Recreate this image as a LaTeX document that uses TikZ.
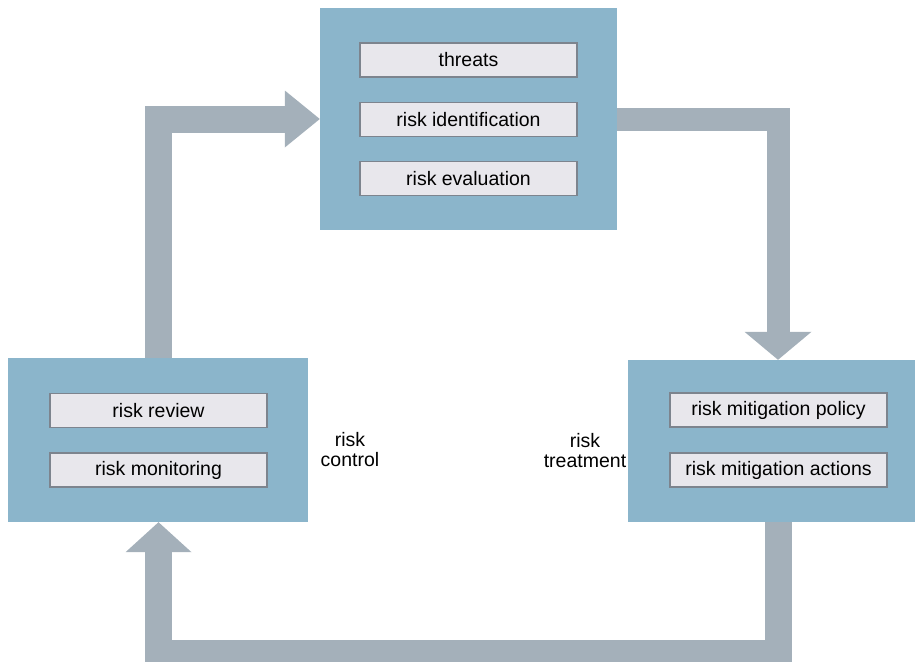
\documentclass[tikz,border=0pt]{standalone}
\usepackage{fontspec}
\setmainfont{Liberation Sans}
\usetikzlibrary{arrows.meta,calc}
\definecolor{boxblue}{RGB}{139,181,203}
\definecolor{arrowgrey}{RGB}{164,176,186}
\definecolor{itemfill}{RGB}{232,231,236}
\definecolor{itemline}{RGB}{125,132,142}
\begin{document}
\begin{tikzpicture}[x=1pt,y=-1pt,
  stage/.style={fill=boxblue, draw=none, inner sep=0pt},
  item/.style={fill=itemfill, draw=itemline, line width=1.3pt, minimum width=217pt, minimum height=34pt, inner sep=0pt, font=\fontsize{19.5}{22}\selectfont},
  fatarrow/.style={draw=arrowgrey, line width=27pt, line join=miter},
  lbl/.style={align=center, font=\fontsize{19.5}{20}\selectfont, inner sep=0pt}
]
\useasboundingbox (0,0) rectangle (915,661);
% stage boxes
\node[stage, minimum width=297pt, minimum height=222pt] (top) at (468.5,119) {};
\node[stage, minimum width=300pt, minimum height=164pt] (left) at (158,440) {};
\node[stage, minimum width=301pt, minimum height=162pt] (right) at (778.5,441) {};
% items
\node[item] (threats) at (468.5,60) {threats};
\node[item] (ident) at (468.5,119.5) {risk identification};
\node[item] (eval) at (468.5,178.5) {risk evaluation};
\node[item] (review) at (158.5,410.5) {risk review};
\node[item] (monit) at (158.5,470) {risk monitoring};
\node[item] (policy) at (778.5,410) {risk mitigation policy};
\node[item] (actions) at (778.5,470) {risk mitigation actions};
% labels
\node[lbl] (control) at (350,450) {risk\\control};
\node[lbl] (treat) at (585,451) {risk\\treatment};
% connectors
\coordinate (br) at (778.5,653.5);
\draw[fatarrow, -{Triangle[length=35pt,width=57pt,line width=0pt]}] (left.north) |- (top.west);
\draw[fatarrow, line width=23pt, -{Triangle[length=28pt,width=67pt,line width=0pt]}] (top.east) -| ([xshift=-0.5pt]right.north);
\draw[fatarrow, -{Triangle[length=30pt,width=66pt,line width=0pt]}] (right.south) -- (br) -| ([xshift=0.5pt]left.south);
\end{tikzpicture}
\end{document}
